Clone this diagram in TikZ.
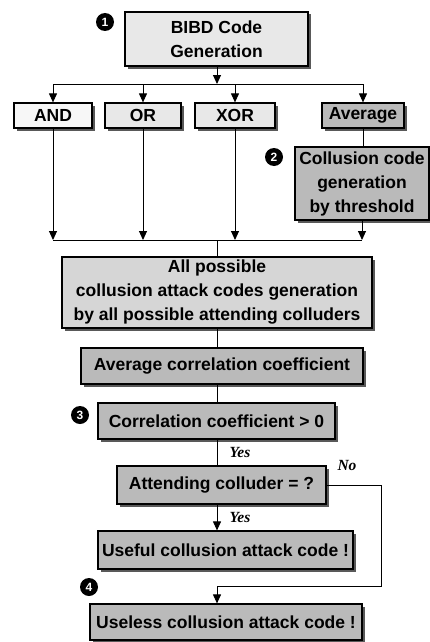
\documentclass[tikz,border=0pt]{standalone}
\usepackage{fontspec}
\setmainfont{Liberation Sans}
\newfontfamily\labfont{Liberation Serif}
\usetikzlibrary{arrows.meta,shadows}
\begin{document}
\begin{tikzpicture}[x=1pt,y=-1pt,
  box/.style={draw=black, line width=1.2pt, inner sep=0pt, align=center,
    font=\bfseries\fontsize{17.5}{24}\selectfont,
    drop shadow={shadow xshift=2.5pt, shadow yshift=-2.5pt, fill=black!65, opacity=1}},
  lightbox/.style={box, fill=black!9},
  midbox/.style={box, fill=black!16},
  darkbox/.style={box, fill=black!27},
  conn/.style={draw=black, line width=1pt},
  arr/.style={conn, -{Triangle[length=9pt,width=8pt]}},
  marker/.style={circle, fill=black, text=white, inner sep=0pt, minimum size=18pt,
    font=\bfseries\fontsize{12}{12}\selectfont},
  lab/.style={font=\labfont\bfseries\itshape\fontsize{15.5}{15.5}\selectfont}
]
\useasboundingbox (0,0) rectangle (430,642);
\fill[white] (0,0) rectangle (430,642);

% boxes
\node[lightbox, minimum width=183pt, minimum height=54pt] (bibd) at (216.5,39) {BIBD Code\\Generation};
\node[box, fill=black!3, minimum width=78pt, minimum height=25pt] (and) at (53,115.5) {AND};
\node[lightbox, minimum width=76pt, minimum height=25pt] (or) at (143,115.5) {OR};
\node[lightbox, minimum width=80pt, minimum height=25pt] (xor) at (235,115.5) {XOR};
\node[darkbox, minimum width=82pt, minimum height=25pt] (avg) at (363,115.5) {Average};
\node[darkbox, minimum width=134pt, minimum height=73pt] (coll) at (362,183.5) {Collusion code\\generation\\by threshold};
\node[midbox, minimum width=310pt, minimum height=71pt] (all) at (217,292.5) {All possible\\collusion attack codes generation\\by all possible attending colluders};
\node[darkbox, minimum width=282pt, minimum height=36pt] (avgcorr) at (222,366) {Average correlation coefficient};
\node[darkbox, minimum width=237pt, minimum height=36pt] (corr) at (216.5,421) {Correlation coefficient {\normalfont\bfseries >} 0};
\node[darkbox, minimum width=209pt, minimum height=38pt] (att) at (221.5,485) {Attending colluder = ?};
\node[darkbox, minimum width=255pt, minimum height=38pt] (useful) at (225.5,550) {Useful collusion attack code !};
\node[darkbox, minimum width=272pt, minimum height=36pt] (useless) at (226,622) {Useless collusion attack code !};

% markers
\node[marker] (m1) at (105,22) {1};
\node[marker] (m2) at (274,157) {2};
\node[marker] (m3) at (80,415) {3};
\node[marker] (m4) at (89,587) {4};

% labels
\node[lab] (yes1) at (240,452) {Yes};
\node[lab] (no) at (347,465) {No};
\node[lab] (yes2) at (240,517) {Yes};

% junction coordinates
\coordinate (top) at (217,84);
\coordinate (bot) at (217,240);
\coordinate (nr) at (381,586);

% connectors
\draw[arr] (bibd.south -| top) -- (top);
\draw[conn] (and.north |- top) -- (avg.north |- top);
\foreach \n in {and,or,xor,avg} \draw[arr] (\n.north |- top) -- (\n.north);
\draw[conn] (avg.south) -- (avg.south |- coll.north);
\foreach \n in {and,or,xor,coll} \draw[arr] (\n.south) -- (\n.south |- bot);
\draw[conn] (and.south |- bot) -- (coll.south |- bot);
\draw[conn] (bot) -- (bot |- all.north);
\draw[conn] (all.south -| top) -- (avgcorr.north -| top);
\draw[conn] (avgcorr.south -| top) -- (corr.north -| top);
\draw[conn] (corr.south -| top) -- (att.north -| top);
\draw[arr] (att.south -| top) -- (useful.north -| top);
\draw[arr] (att.east) -| (nr) -- (nr -| top) -- (useless.north -| top);
\end{tikzpicture}
\end{document}
